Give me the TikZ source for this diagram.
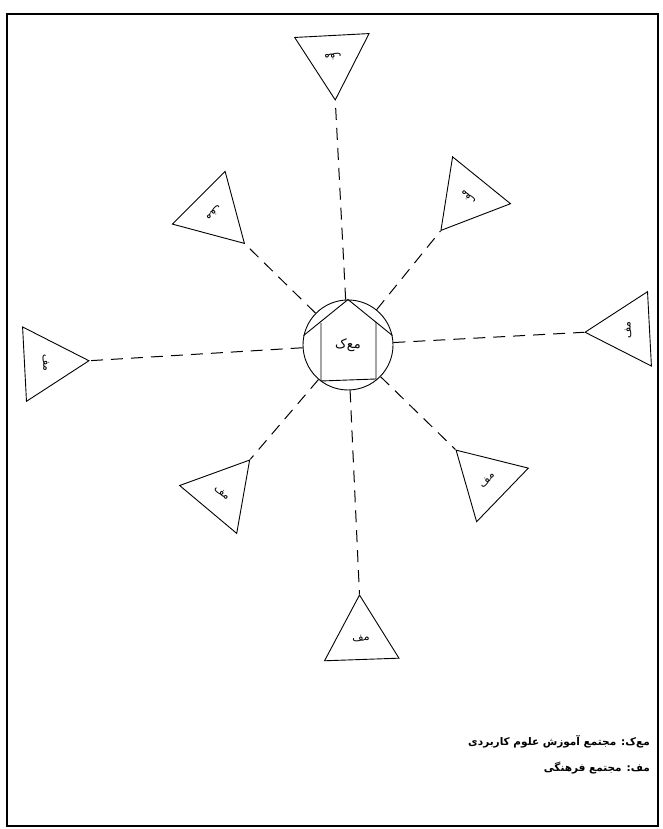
\documentclass[tikz,border=0pt]{standalone}
\usepackage{fontspec}
\newfontfamily\arabicfont[Script=Arabic]{DejaVu Sans}
\TeXXeTstate=1
\usepackage{tikz}
\usetikzlibrary{shapes.geometric,calc}

\begin{document}
\begin{tikzpicture}[x=1pt,y=1pt,
	tri/.style={draw,regular polygon,regular polygon sides=3,
		minimum size=86pt,inner sep=0pt,line width=0.9pt,
		font=\arabicfont\fontsize{11}{13}\selectfont},
	link/.style={line width=1pt,dash pattern=on 12pt off 8pt},
	legend/.style={anchor=east,inner sep=0pt,
		font=\arabicfont\bfseries\fontsize{10.5}{13}\selectfont}
	]
	
	\useasboundingbox (0,0) rectangle (662,829);
	\draw[line width=1.3pt] (7,3) rectangle (658,815);
	
	% centre
	\node[
	draw,
	circle,
	line width=0.9pt,
	minimum size=90pt,
	inner sep=0pt,
	font=\arabicfont\fontsize{13}{15}\selectfont
	] (hub) at (348,484)
	{\beginR مع‌ک\endR};
	
	\draw[line width=0.9pt] (hub.168) -- (hub.90) -- (hub.12);
	\draw[line width=0.9pt]
	([shift={(-27,22)}]hub.center) -- ([shift={(-27,-36)}]hub.center)
	-- ([shift={(28,-34)}]hub.center) -- ([shift={(28,23)}]hub.center);
	
	% triangles
	\node[tri,rotate=183] (top) at (333,772) {\beginR مف\endR};
	\node[tri,rotate=225] (upleft) at (214,616) {\beginR مف\endR};
	\node[tri,rotate=273] (left) at (46,466) {\beginR مف\endR};
	\node[tri,rotate=141] (upright) at (468,632) {\beginR مف\endR};
	\node[tri,rotate=93] (right) at (628,499) {\beginR مف\endR};
	\node[tri,rotate=46] (lowright) at (487,349) {\beginR مف\endR};
	\node[tri,rotate=320] (lowleft) at (222,336) {\beginR مف\endR};
	\node[tri,rotate=2] (bottom) at (361,191) {\beginR مف\endR};
	
	\draw[link] (hub) -- (top.corner 1);
	\draw[link] (hub) -- (upleft.corner 1);
	\draw[link] (hub) -- (left.corner 1);
	\draw[link] (hub) -- (upright.corner 1);
	\draw[link] (hub) -- (right.corner 1);
	\draw[link] (hub) -- (lowright.corner 1);
	\draw[link] (hub) -- (lowleft.corner 1);
	\draw[link] (hub) -- (bottom.corner 1);
	
	% legend
	\node[legend] (keyhub) at (650,87)
	{\beginR مع‌ک: مجتمع آموزش علوم کاربردی\endR};
	\node[legend] (keytri) at (650,61)
	{\beginR مف: مجتمع فرهنگی\endR};
	
\end{tikzpicture}
\end{document}
